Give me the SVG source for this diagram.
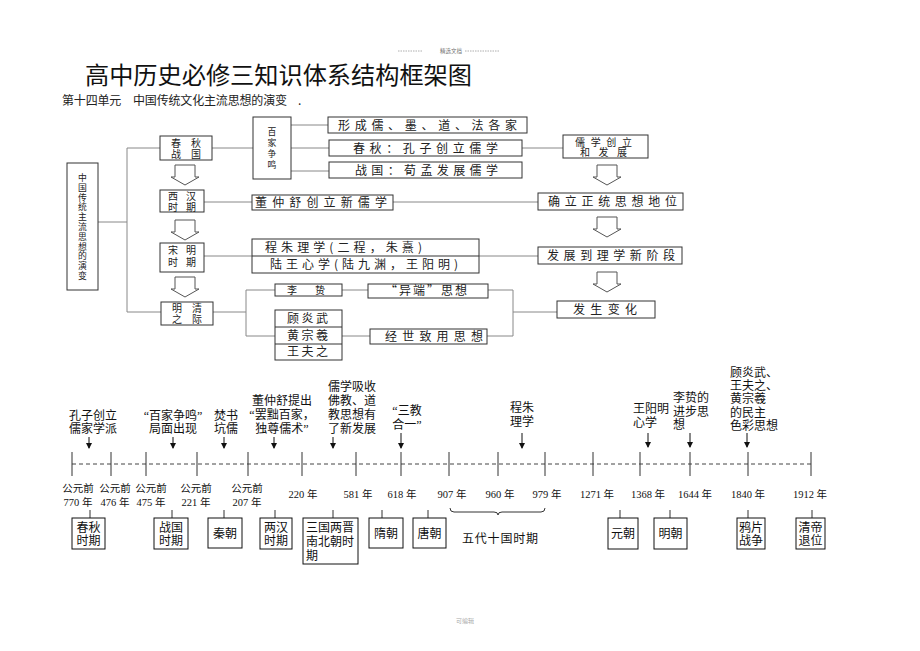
<svg xmlns="http://www.w3.org/2000/svg" width="920" height="651" viewBox="0 0 920 651">
<defs>
<style>
.box{fill:#fff;stroke:#333;stroke-width:1}
.conn{stroke:#888;stroke-width:1;fill:none}
.ha{fill:#fff;stroke:#555;stroke-width:1}
.t{font-family:'Noto Sans CJK SC',sans-serif;font-size:12px;fill:#222}
.s{font-size:10px}
.v{font-family:'Noto Sans CJK SC',sans-serif;font-size:8.8px;fill:#222}
.tl{font-family:'Liberation Serif','Noto Sans CJK SC',serif;font-size:12px;fill:#111}
.yr{font-family:'Liberation Serif','Noto Sans CJK SC',serif;font-size:10.5px;fill:#111}
.pb{fill:#fff;stroke:#111;stroke-width:1}
.ax{stroke:#333;stroke-width:1}
.arr{stroke:#111;stroke-width:1}
</style>
<marker id="ah" markerWidth="6" markerHeight="6" refX="5" refY="3" orient="auto" markerUnits="userSpaceOnUse"><path d="M0,0 L6,3 L0,6 z" fill="#111"/></marker>
<path id="hollow" d="M-10,0 L10,0 L10,12 L14,12 L0,20 L-14,12 L-10,12 Z"/>
</defs>
<rect width="920" height="651" fill="#fff"/>

<g id="header">
<line x1="398" y1="51" x2="423" y2="51" stroke="#999" stroke-width="0.8" stroke-dasharray="1.5 1"/>
<line x1="465" y1="51" x2="500" y2="51" stroke="#999" stroke-width="0.8" stroke-dasharray="1.5 1"/>
<text x="440" y="53" font-family="'Noto Sans CJK SC',sans-serif" font-size="5.5" fill="#777">精选文档</text>
</g>

<g id="title">
<text x="85" y="84" font-family="'Noto Sans CJK SC',sans-serif" font-size="24" fill="#111" textLength="387" lengthAdjust="spacingAndGlyphs">高中历史必修三知识体系结构框架图</text>
<text x="62" y="105" class="t" textLength="225">第十四单元　中国传统文化主流思想的演变</text>
<text x="298" y="105" class="t">.</text>
</g>

<g id="connectors">
<line class="conn" x1="98" y1="222" x2="127" y2="222"/>
<line class="conn" x1="127" y1="148" x2="127" y2="312"/>
<line class="conn" x1="127" y1="148" x2="160" y2="148"/>
<line class="conn" x1="127" y1="312" x2="161" y2="312"/>
<line class="conn" x1="212" y1="148" x2="253" y2="148"/>
<line class="conn" x1="291" y1="125" x2="328" y2="125"/>
<line class="conn" x1="291" y1="148" x2="329" y2="148"/>
<line class="conn" x1="291" y1="171" x2="329" y2="171"/>
<line class="conn" x1="522" y1="148" x2="563" y2="148"/>
<line class="conn" x1="204" y1="202" x2="252" y2="202"/>
<line class="conn" x1="393" y1="202" x2="538" y2="202"/>
<line class="conn" x1="204" y1="256" x2="252" y2="256"/>
<line class="conn" x1="479" y1="256" x2="538" y2="256"/>
<line class="conn" x1="213" y1="312" x2="246" y2="312"/>
<line class="conn" x1="246" y1="290" x2="246" y2="336"/>
<line class="conn" x1="246" y1="290" x2="275" y2="290"/>
<line class="conn" x1="246" y1="336" x2="275" y2="336"/>
<line class="conn" x1="342" y1="290" x2="368" y2="290"/>
<line class="conn" x1="488" y1="290" x2="513" y2="290"/>
<line class="conn" x1="513" y1="290" x2="513" y2="336"/>
<line class="conn" x1="342" y1="336" x2="370" y2="336"/>
<line class="conn" x1="487" y1="336" x2="513" y2="336"/>
<line class="conn" x1="513" y1="312" x2="557" y2="312"/>
<use href="#hollow" class="ha" x="185" y="165"/>
<use href="#hollow" class="ha" x="185" y="220"/>
<use href="#hollow" class="ha" x="185" y="277"/>
<use href="#hollow" class="ha" x="607" y="165"/>
<use href="#hollow" class="ha" x="607" y="217"/>
<use href="#hollow" class="ha" x="607" y="272"/>
</g>

<g id="n-root">
<rect class="box" x="67" y="163" width="31" height="127"/>
<text class="v" text-anchor="middle"><tspan x="82.5" y="181">中</tspan><tspan x="82.5" dy="9.8">国</tspan><tspan x="82.5" dy="9.8">传</tspan><tspan x="82.5" dy="9.8">统</tspan><tspan x="82.5" dy="9.8">主</tspan><tspan x="82.5" dy="9.8">流</tspan><tspan x="82.5" dy="9.8">思</tspan><tspan x="82.5" dy="9.8">想</tspan><tspan x="82.5" dy="9.8">的</tspan><tspan x="82.5" dy="9.8">演</tspan><tspan x="82.5" dy="9.8">变</tspan></text>
</g>
<g id="n-chunqiu">
<rect class="box" x="160" y="136" width="52" height="24"/>
<text class="t s" x="171" y="146.5" textLength="30">春秋</text>
<text class="t s" x="171" y="157.5" textLength="30">战国</text>
</g>
<g id="n-xihan">
<rect class="box" x="160" y="190" width="44" height="22"/>
<text class="t s" x="168" y="200" textLength="28">西汉</text>
<text class="t s" x="168" y="210.5" textLength="28">时期</text>
</g>
<g id="n-songming">
<rect class="box" x="160" y="243" width="44" height="29"/>
<text class="t s" x="168" y="254" textLength="28">宋明</text>
<text class="t s" x="168" y="266" textLength="28">时期</text>
</g>
<g id="n-mingqing">
<rect class="box" x="161" y="302" width="52" height="23"/>
<text class="t s" x="172" y="312" textLength="30">明清</text>
<text class="t s" x="172" y="323" textLength="30">之际</text>
</g>
<g id="n-baijia">
<rect class="box" x="253" y="117" width="38" height="62"/>
<text class="v" font-size="10" text-anchor="middle"><tspan x="272" y="135">百</tspan><tspan x="272" dy="11">家</tspan><tspan x="272" dy="11">争</tspan><tspan x="272" dy="11">鸣</tspan></text>
</g>
<g id="n-xingcheng">
<rect class="box" x="328" y="117" width="199" height="16"/>
<text class="t" x="338" y="129.5" textLength="179">形成儒、墨、道、法各家</text>
</g>
<g id="n-chunqiu-kz">
<rect class="box" x="329" y="140" width="193" height="16"/>
<text class="t" x="353" y="152.5" textLength="145">春秋：孔子创立儒学</text>
</g>
<g id="n-zhanguo-xm">
<rect class="box" x="329" y="162" width="193" height="16"/>
<text class="t" x="355" y="174.5" textLength="143">战国：荀孟发展儒学</text>
</g>
<g id="n-rxcl">
<rect class="box" x="563" y="135" width="85" height="23"/>
<text class="t s" x="575" y="145.5" textLength="57">儒学创立</text>
<text class="t s" x="580" y="156" textLength="47">和发展</text>
</g>
<g id="n-dzs">
<rect class="box" x="252" y="195" width="141" height="15"/>
<text class="t" x="255" y="207" textLength="132">董仲舒创立新儒学</text>
</g>
<g id="n-queli">
<rect class="box" x="538" y="193" width="145" height="17"/>
<text class="t" x="548" y="206" textLength="129">确立正统思想地位</text>
</g>
<g id="n-lixue">
<rect class="box" x="252" y="239" width="227" height="34"/>
<line class="box" x1="252" y1="256" x2="479" y2="256"/>
<text class="t" x="265" y="251.5" textLength="157">程朱理学(二程，朱熹)</text>
<text class="t" x="270" y="268.5" textLength="188">陆王心学(陆九渊，王阳明)</text>
</g>
<g id="n-fazhan">
<rect class="box" x="538" y="247" width="144" height="17"/>
<text class="t" x="547" y="260" textLength="128">发展到理学新阶段</text>
</g>
<g id="n-lizhi">
<rect class="box" x="275" y="284" width="67" height="12"/>
<text class="t s" x="287" y="294">李</text>
<text class="t s" x="315" y="294">贽</text>
</g>
<g id="n-yiduan">
<rect class="box" x="368" y="284" width="120" height="14"/>
<text class="t" font-size="11" x="385" y="295" textLength="82">“异端”思想</text>
</g>
<g id="n-three">
<rect class="box" x="275" y="310" width="67" height="50"/>
<line class="box" x1="275" y1="327" x2="342" y2="327"/>
<line class="box" x1="275" y1="344" x2="342" y2="344"/>
<text class="t" font-size="11" x="287" y="322.5" textLength="41">顾炎武</text>
<text class="t" font-size="11" x="287" y="339.5" textLength="41">黄宗羲</text>
<text class="t" font-size="11" x="287" y="356" textLength="41">王夫之</text>
</g>
<g id="n-jingshi">
<rect class="box" x="370" y="329" width="117" height="15"/>
<text class="t" font-size="11" x="385" y="340.5" textLength="98">经世致用思想</text>
</g>
<g id="n-bianhua">
<rect class="box" x="557" y="301" width="98" height="17"/>
<text class="t" x="573" y="314" textLength="64">发生变化</text>
</g>

<g id="timeline-axis">
<line x1="72" y1="464" x2="811" y2="464" stroke="#444" stroke-width="1" stroke-dasharray="4 3"/>
<g class="ax">
<line x1="72" y1="452" x2="72" y2="476"/><line x1="111" y1="452" x2="111" y2="476"/><line x1="146" y1="452" x2="146" y2="476"/><line x1="197" y1="452" x2="197" y2="476"/><line x1="248" y1="452" x2="248" y2="476"/><line x1="302" y1="452" x2="302" y2="476"/><line x1="356" y1="452" x2="356" y2="476"/><line x1="401" y1="452" x2="401" y2="476"/><line x1="449" y1="452" x2="449" y2="476"/><line x1="498" y1="452" x2="498" y2="476"/><line x1="545" y1="452" x2="545" y2="476"/><line x1="593" y1="452" x2="593" y2="476"/><line x1="640" y1="452" x2="640" y2="476"/><line x1="690" y1="452" x2="690" y2="476"/><line x1="748" y1="452" x2="748" y2="476"/><line x1="811" y1="452" x2="811" y2="476"/>
</g>
</g>

<g id="timeline-arrows" class="arr">
<line x1="89" y1="437" x2="89" y2="448" marker-end="url(#ah)"/>
<line x1="173" y1="437" x2="173" y2="448" marker-end="url(#ah)"/>
<line x1="224" y1="437" x2="224" y2="448" marker-end="url(#ah)"/>
<line x1="274" y1="437" x2="274" y2="448" marker-end="url(#ah)"/>
<line x1="333" y1="437" x2="333" y2="448" marker-end="url(#ah)"/>
<line x1="401" y1="433" x2="401" y2="448" marker-end="url(#ah)"/>
<line x1="522" y1="433" x2="522" y2="448" marker-end="url(#ah)"/>
<line x1="648" y1="433" x2="648" y2="447" marker-end="url(#ah)"/>
<line x1="690" y1="433" x2="690" y2="447" marker-end="url(#ah)"/>
<line x1="747" y1="433" x2="747" y2="447" marker-end="url(#ah)"/>
</g>

<g id="events" class="tl">
<text text-anchor="middle"><tspan x="93" y="420">孔子创立</tspan><tspan x="93" y="433">儒家学派</tspan></text>
<text text-anchor="middle"><tspan x="173" y="420">“百家争鸣”</tspan><tspan x="173" y="433">局面出现</tspan></text>
<text text-anchor="middle"><tspan x="226" y="420">焚书</tspan><tspan x="226" y="433">坑儒</tspan></text>
<text text-anchor="middle"><tspan x="282" y="405">董仲舒提出</tspan><tspan x="282" y="419">“罢黜百家，</tspan><tspan x="282" y="433">独尊儒术”</tspan></text>
<text text-anchor="middle"><tspan x="352" y="391">儒学吸收</tspan><tspan x="352" y="405">佛教、道</tspan><tspan x="352" y="419">教思想有</tspan><tspan x="352" y="433">了新发展</tspan></text>
<text text-anchor="middle"><tspan x="407" y="415">“三教</tspan><tspan x="407" y="429">合一”</tspan></text>
<text text-anchor="middle"><tspan x="522" y="412">程朱</tspan><tspan x="522" y="426">理学</tspan></text>
<text><tspan x="633" y="413">王阳明</tspan><tspan x="633" y="427">心学</tspan></text>
<text><tspan x="673" y="402">李贽的</tspan><tspan x="673" y="416">进步思</tspan><tspan x="673" y="429">想</tspan></text>
<text><tspan x="730" y="377">顾炎武、</tspan><tspan x="730" y="390">王夫之、</tspan><tspan x="730" y="403">黄宗羲</tspan><tspan x="730" y="417">的民主</tspan><tspan x="730" y="430">色彩思想</tspan></text>
</g>

<g id="years" class="yr" text-anchor="middle">
<text><tspan x="78" y="492">公元前</tspan><tspan x="78" y="506">770 年</tspan></text>
<text><tspan x="115" y="492">公元前</tspan><tspan x="115" y="506">476 年</tspan></text>
<text><tspan x="151" y="492">公元前</tspan><tspan x="151" y="506">475 年</tspan></text>
<text><tspan x="196" y="492">公元前</tspan><tspan x="196" y="506">221 年</tspan></text>
<text><tspan x="247" y="492">公元前</tspan><tspan x="247" y="506">207 年</tspan></text>
<text x="303" y="498">220 年</text>
<text x="358" y="498">581 年</text>
<text x="402" y="498">618 年</text>
<text x="452" y="498">907 年</text>
<text x="500" y="498">960 年</text>
<text x="547" y="498">979 年</text>
<text x="597" y="498">1271 年</text>
<text x="648" y="498">1368 年</text>
<text x="695" y="498">1644 年</text>
<text x="748" y="498">1840 年</text>
<text x="810" y="498">1912 年</text>
</g>

<g id="period-ticks" class="ax">
<line x1="90" y1="510" x2="90" y2="518"/><line x1="172" y1="510" x2="172" y2="518"/><line x1="224" y1="510" x2="224" y2="518"/><line x1="275" y1="510" x2="275" y2="518"/><line x1="333" y1="510" x2="333" y2="518"/><line x1="382" y1="510" x2="382" y2="518"/><line x1="428" y1="510" x2="428" y2="518"/><line x1="620" y1="510" x2="620" y2="518"/><line x1="670" y1="510" x2="670" y2="518"/><line x1="748" y1="510" x2="748" y2="518"/><line x1="812" y1="510" x2="812" y2="518"/>
<path d="M450,508 Q450,512 454,512 L494,512 Q498,512 498,515 Q498,512 502,512 L541,512 Q545,512 545,508" fill="none" stroke="#333"/>
</g>

<g id="p-chunqiu"><rect class="pb" x="72" y="518" width="33" height="31"/><text class="tl" text-anchor="middle"><tspan x="88.5" y="532">春秋</tspan><tspan x="88.5" y="545">时期</tspan></text></g>
<g id="p-zhanguo"><rect class="pb" x="154" y="518" width="34" height="31"/><text class="tl" text-anchor="middle"><tspan x="171" y="532">战国</tspan><tspan x="171" y="545">时期</tspan></text></g>
<g id="p-qin"><rect class="pb" x="208" y="518" width="34" height="30"/><text class="tl" x="225" y="537.5" text-anchor="middle">秦朝</text></g>
<g id="p-lianghan"><rect class="pb" x="260" y="518" width="32" height="31"/><text class="tl" text-anchor="middle"><tspan x="276" y="532">两汉</tspan><tspan x="276" y="545">时期</tspan></text></g>
<g id="p-sanguo"><rect class="pb" x="303" y="518" width="55" height="46"/><text class="tl"><tspan x="306" y="532">三国两晋</tspan><tspan x="306" y="546">南北朝时</tspan><tspan x="306" y="560">期</tspan></text></g>
<g id="p-sui"><rect class="pb" x="369" y="518" width="34" height="30"/><text class="tl" x="386" y="537.5" text-anchor="middle">隋朝</text></g>
<g id="p-tang"><rect class="pb" x="413" y="518" width="33" height="30"/><text class="tl" x="429.5" y="537.5" text-anchor="middle">唐朝</text></g>
<g id="p-wudai"><text class="tl" x="462" y="543" textLength="76">五代十国时期</text></g>
<g id="p-yuan"><rect class="pb" x="608" y="518" width="30" height="31"/><text class="tl" x="623" y="538" text-anchor="middle">元朝</text></g>
<g id="p-ming"><rect class="pb" x="654" y="518" width="33" height="31"/><text class="tl" x="670.5" y="538" text-anchor="middle">明朝</text></g>
<g id="p-yapian"><rect class="pb" x="737" y="518" width="28" height="31"/><text class="tl" text-anchor="middle"><tspan x="751" y="532">鸦片</tspan><tspan x="751" y="545">战争</tspan></text></g>
<g id="p-qingdi"><rect class="pb" x="796" y="518" width="29" height="31"/><text class="tl" text-anchor="middle"><tspan x="810.5" y="532">清帝</tspan><tspan x="810.5" y="545">退位</tspan></text></g>

<g id="footer"><text x="456" y="623" font-family="'Noto Sans CJK SC',sans-serif" font-size="6" fill="#aaa">可编辑</text></g>
</svg>
